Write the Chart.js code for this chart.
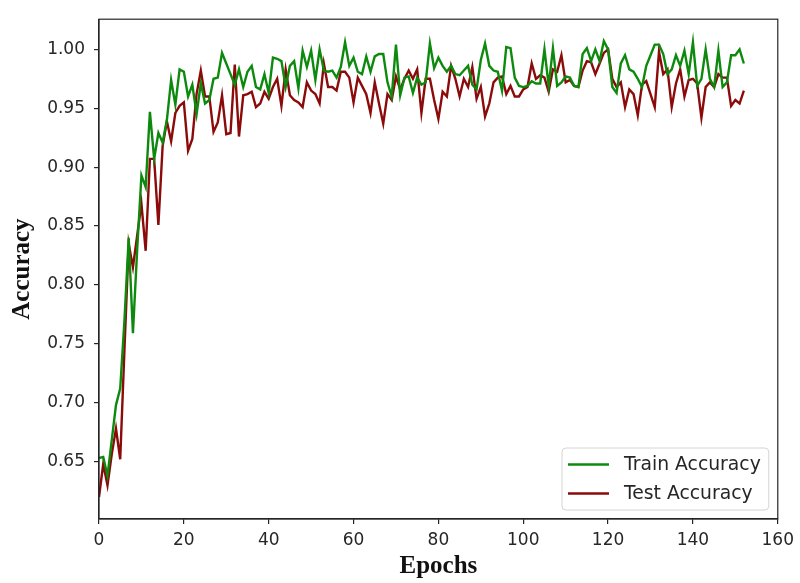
<!DOCTYPE html>
<html>
<head>
<meta charset="utf-8">
<script src="https://cdn.jsdelivr.net/npm/chart.js@4/dist/chart.umd.min.js"></script>
<style>
  html, body { margin: 0; padding: 0; background: #ffffff; }
  #wrap { position: relative; width: 800px; height: 583px; }
</style>
</head>
<body>
<div id="wrap"><canvas id="acc"></canvas></div>
<script>
// Per-epoch accuracy
const trainAccuracy = [
  0.653, 0.654, 0.638, 0.668, 0.698, 0.712, 0.770, 0.840, 0.759, 0.830,
  0.893, 0.883, 0.947, 0.907, 0.929, 0.921, 0.940, 0.974, 0.953, 0.983,
  0.981, 0.960, 0.970, 0.945, 0.971, 0.954, 0.957, 0.975, 0.976, 0.997,
  0.988, 0.979, 0.970, 0.983, 0.968, 0.981, 0.986, 0.968, 0.966, 0.979,
  0.963, 0.993, 0.992, 0.990, 0.968, 0.986, 0.990, 0.967, 0.999, 0.985,
  0.999, 0.974, 1.000, 0.982, 0.981, 0.982, 0.976, 0.985, 1.006, 0.986,
  0.993, 0.981, 0.979, 0.994, 0.981, 0.994, 0.996, 0.996, 0.972, 0.960,
  1.004, 0.961, 0.976, 0.977, 0.963, 0.976, 0.970, 0.972, 1.005, 0.984,
  0.993, 0.986, 0.981, 0.986, 0.979, 0.978, 0.982, 0.986, 0.970, 0.966,
  0.991, 1.005, 0.986, 0.982, 0.981, 0.965, 1.002, 1.001, 0.976, 0.969,
  0.968, 0.969, 0.973, 0.971, 0.971, 1.000, 0.969, 1.001, 0.969, 0.972,
  0.977, 0.976, 0.969, 0.968, 0.996, 1.001, 0.990, 1.000, 0.990, 1.007,
  1.000, 0.968, 0.963, 0.988, 0.995, 0.983, 0.981, 0.975, 0.968, 0.986,
  0.995, 1.004, 1.004, 0.996, 0.979, 0.983, 0.995, 0.986, 0.999, 0.979,
  1.006, 0.969, 0.975, 1.000, 0.975, 0.968, 0.999, 0.968, 0.972, 0.995,
  0.995, 1.000, 0.988
];
const testAccuracy = [
  0.620, 0.648, 0.630, 0.656, 0.678, 0.652, 0.745, 0.835, 0.815, 0.842,
  0.869, 0.829, 0.907, 0.907, 0.851, 0.918, 0.939, 0.922, 0.946, 0.952,
  0.955, 0.914, 0.924, 0.962, 0.982, 0.960, 0.960, 0.930, 0.938, 0.961,
  0.928, 0.929, 0.987, 0.926, 0.961, 0.962, 0.964, 0.951, 0.954, 0.964,
  0.958, 0.968, 0.975, 0.952, 0.983, 0.961, 0.957, 0.955, 0.951, 0.972,
  0.965, 0.962, 0.954, 0.988, 0.968, 0.968, 0.965, 0.981, 0.981, 0.976,
  0.955, 0.976, 0.969, 0.962, 0.946, 0.972, 0.954, 0.937, 0.962, 0.957,
  0.977, 0.966, 0.975, 0.982, 0.975, 0.983, 0.946, 0.975, 0.975, 0.957,
  0.941, 0.964, 0.960, 0.986, 0.975, 0.960, 0.975, 0.968, 0.985, 0.958,
  0.968, 0.943, 0.954, 0.972, 0.976, 0.977, 0.962, 0.969, 0.960, 0.960,
  0.966, 0.968, 0.988, 0.975, 0.978, 0.976, 0.964, 0.983, 0.981, 0.995,
  0.972, 0.974, 0.969, 0.968, 0.982, 0.990, 0.989, 0.979, 0.988, 0.997,
  1.000, 0.975, 0.968, 0.972, 0.951, 0.966, 0.962, 0.944, 0.970, 0.973,
  0.962, 0.951, 0.998, 0.979, 0.983, 0.951, 0.971, 0.983, 0.960, 0.974,
  0.975, 0.971, 0.942, 0.968, 0.972, 0.968, 0.979, 0.976, 0.976, 0.952,
  0.957, 0.954, 0.965
];
const seriesLabels = ['Train Accuracy', 'Test Accuracy'];
const xTickValues = [0, 20, 40, 60, 80, 100, 120, 140, 160];
const yTickValues = [0.65, 0.70, 0.75, 0.80, 0.85, 0.90, 0.95, 1.00];

const toPoints = arr => arr.map((v, epoch) => ({ x: epoch, y: v }));

const AXIS = '#262626';
const TICK_FONT = { family: '"DejaVu Sans", sans-serif', size: 17 };
const TITLE_FONT = { family: '"Liberation Serif", "Times New Roman", serif', size: 25, weight: 'bold' };

// Full frame around the plot area
const frame = {
  id: 'frame',
  afterDraw(chart) {
    const { ctx, chartArea: a } = chart;
    ctx.save();
    ctx.strokeStyle = AXIS;
    ctx.lineWidth = 1.2;
    ctx.strokeRect(a.left, a.top, a.right - a.left, a.bottom - a.top);
    ctx.restore();
  }
};

// Boxed legend in the lower-right corner of the plot area
const cornerLegend = {
  id: 'cornerLegend',
  afterDatasetsDraw(chart) {
    const { ctx, chartArea: a } = chart;
    const ds = chart.data.datasets;
    ctx.save();
    ctx.font = '18.8px "DejaVu Sans", sans-serif';
    const textW = Math.max(...ds.map(d => ctx.measureText(d.label).width));
    const padL = 6, lineLen = 41, gap = 15, padR = 8, rowH = 29;
    const w = padL + lineLen + gap + textW + padR;
    const h = rowH * ds.length + 4;
    const x = a.right - 9 - w, y = a.bottom - 9 - h;
    ctx.beginPath();
    ctx.roundRect(x, y, w, h, 4);
    ctx.fillStyle = 'rgba(255,255,255,0.85)';
    ctx.fill();
    ctx.strokeStyle = '#d4d4d4';
    ctx.lineWidth = 1;
    ctx.stroke();
    ds.forEach((d, i) => {
      const cy = y + 2 + rowH * (i + 0.5);
      ctx.strokeStyle = d.borderColor;
      ctx.lineWidth = 2.4;
      ctx.beginPath();
      ctx.moveTo(x + padL, cy);
      ctx.lineTo(x + padL + lineLen, cy);
      ctx.stroke();
      ctx.fillStyle = '#262626';
      ctx.textBaseline = 'middle';
      ctx.textAlign = 'left';
      ctx.fillText(d.label, x + padL + lineLen + gap, cy + 1);
    });
    ctx.restore();
  }
};

new Chart(document.getElementById('acc'), {
  type: 'line',
  data: {
    datasets: [
      { label: seriesLabels[0], data: toPoints(trainAccuracy), borderColor: '#0d8a0d', borderWidth: 2.4 },
      { label: seriesLabels[1], data: toPoints(testAccuracy), borderColor: '#8b0a0a', borderWidth: 2.4 }
    ]
  },
  options: {
    responsive: true,
    maintainAspectRatio: false,
    animation: false,
    layout: { padding: { left: 0, top: 11, right: 21, bottom: 0 } },
    elements: { point: { radius: 0 }, line: { tension: 0 } },
    plugins: { legend: { display: false }, tooltip: { enabled: false } },
    scales: {
      x: {
        type: 'linear',
        min: 0, max: 160,
        afterBuildTicks: s => { s.ticks = xTickValues.map(v => ({ value: v })); },
        afterFit: s => { s.height = 64; },
        ticks: { color: AXIS, font: TICK_FONT, padding: 6, maxRotation: 0, callback: v => String(v) },
        grid: { display: true, drawOnChartArea: false, drawTicks: true, tickLength: 5, color: AXIS, lineWidth: 1.2 },
        border: { display: true, color: AXIS, width: 1.2 },
        title: { display: true, text: 'Epochs', color: '#111', font: TITLE_FONT, padding: { top: 2, bottom: 1 } }
      },
      y: {
        type: 'linear',
        min: 0.6013, max: 1.0256,
        afterBuildTicks: s => { s.ticks = yTickValues.map(v => ({ value: v })); },
        afterFit: s => { s.width = 99; },
        ticks: { color: AXIS, font: TICK_FONT, padding: 9, callback: v => v.toFixed(2) },
        grid: { display: true, drawOnChartArea: false, drawTicks: true, tickLength: 5, color: AXIS, lineWidth: 1.2 },
        border: { display: true, color: AXIS, width: 1.2 },
        title: { display: true, text: 'Accuracy', color: '#111', font: TITLE_FONT, padding: { top: 8, bottom: 0 } }
      }
    }
  },
  plugins: [frame, cornerLegend]
});
</script>
</body>
</html>
